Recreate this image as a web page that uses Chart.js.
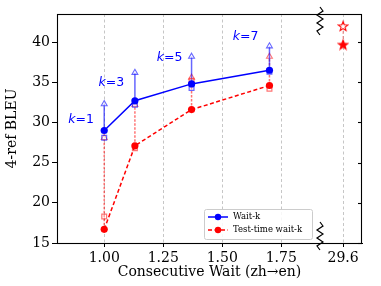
<!DOCTYPE html>
<html>
<head>
<meta charset="utf-8">
<script src="https://cdn.jsdelivr.net/npm/chart.js@4.4.0/dist/chart.umd.min.js"></script>
<style>
html,body{margin:0;padding:0;background:#fff;}
#wrap{width:381px;height:286px;position:relative;}
</style>
</head>
<body>
<div id="wrap"><canvas id="c" width="381" height="286"></canvas></div>
<script>
// ---- data ----
const consecutiveWait = [1.00, 1.13, 1.37, 1.70];
const waitK = [29.0, 32.7, 34.8, 36.5];
const waitKUpper = [32.3, 36.2, 38.2, 39.5];
const waitKSquare = [28.1, 32.2, 34.3, 36.3];
const testTime = [16.7, 27.1, 31.6, 34.6];
const testTimeUpper = [28.1, 32.2, 35.6, 38.2];
const testTimeSquare = [18.3, 26.8, 35.2, 34.2];
const kLabels = ['1', '3', '5', '7'];
const fullSentPos = 2.012;          // axis position of the "29.6" column
const fullSent = [42.0, 39.7];      // hollow star, filled star
const xTickValues = [1.00, 1.25, 1.50, 1.75, 2.012];
const xTickLabels = ['1.00', '1.25', '1.50', '1.75', '29.6'];
const yTickValues = [15, 20, 25, 30, 35, 40];

const BLUE = '#0000ff', RED = '#ff0000';
const BLUE_A = 'rgba(0,0,255,0.6)', RED_A = 'rgba(255,0,0,0.55)';

function makeStar(filled) {
  const s = 12, c = document.createElement('canvas');
  c.width = s; c.height = s;
  const g = c.getContext('2d');
  g.beginPath();
  for (let i = 0; i < 10; i++) {
    const r = i % 2 === 0 ? 5 : 2.1;
    const a = -Math.PI / 2 + i * Math.PI / 5;
    const px = s / 2 + r * Math.cos(a), py = s / 2 + 0.5 + r * Math.sin(a);
    if (i === 0) g.moveTo(px, py); else g.lineTo(px, py);
  }
  g.closePath();
  g.fillStyle = filled ? RED : '#ffffff';
  g.fill();
  g.lineWidth = 1.1;
  g.strokeStyle = RED;
  g.stroke();
  return c;
}
const starHollow = makeStar(false), starFilled = makeStar(true);

function arrowData(base, top) {
  const d = [];
  consecutiveWait.forEach((x, i) => {
    d.push({x: x, y: base[i]}, {x: x, y: top[i]}, {x: x, y: null});
  });
  return d;
}
function pts(ys) { return consecutiveWait.map((x, i) => ({x: x, y: ys[i]})); }

const datasets = [
  { label: 'Wait-k', data: pts(waitK), borderColor: BLUE, backgroundColor: BLUE,
    borderWidth: 1.5, pointStyle: 'circle', pointRadius: 3.6, pointBorderWidth: 0,
    showLine: true, order: 1 },
  { label: 'Test-time wait-k', data: pts(testTime), borderColor: RED, backgroundColor: RED,
    borderWidth: 1.5, borderDash: [4, 2.5], pointStyle: 'circle', pointRadius: 3.6, pointBorderWidth: 0,
    showLine: true, order: 2 },
  { label: 'wk-arrow', data: arrowData(waitK, waitKUpper), borderColor: BLUE_A, backgroundColor: 'rgba(255,255,255,0.6)',
    borderWidth: 1.5, showLine: true, spanGaps: false, pointStyle: 'triangle',
    pointRadius: (ctx) => (ctx.dataIndex % 3 === 1 ? 3.4 : 0), pointBorderColor: BLUE_A, pointBorderWidth: 1.1, order: 5 },
  { label: 'tt-arrow', data: arrowData(testTime, testTimeUpper), borderColor: RED_A, backgroundColor: 'rgba(255,255,255,0.6)',
    borderWidth: 1.5, borderDash: [2.5, 1.5], showLine: true, spanGaps: false, pointStyle: 'triangle',
    pointRadius: (ctx) => (ctx.dataIndex % 3 === 1 ? 3.4 : 0), pointBorderColor: RED_A, pointBorderWidth: 1.1, order: 6 },
  { label: 'wk-sq', data: pts(waitKSquare), showLine: false, pointStyle: 'rect', pointRadius: 3.4,
    pointBorderColor: BLUE_A, pointBackgroundColor: 'rgba(255,255,255,0.3)', pointBorderWidth: 1.2, order: 3 },
  { label: 'tt-sq', data: pts(testTimeSquare), showLine: false, pointStyle: 'rect', pointRadius: 3.4,
    pointBorderColor: RED_A, pointBackgroundColor: 'rgba(255,255,255,0.3)', pointBorderWidth: 1.2, order: 4 },
  { label: 'full', data: fullSent.map(y => ({x: fullSentPos, y: y})), showLine: true,
    borderColor: 'rgba(255,0,0,0.35)', borderWidth: 1.3, borderDash: [3, 2],
    pointStyle: [starHollow, starFilled], order: 0 }
];

const breakPos = 1.914;

const decor = {
  id: 'decor',
  beforeDatasetsDraw(chart) {
    const {ctx, chartArea: a, scales: {x}} = chart;
    ctx.save();
    ctx.strokeStyle = 'rgba(176,176,176,0.8)';
    ctx.lineWidth = 0.9;
    ctx.setLineDash([3, 2.5]);
    xTickValues.forEach(v => {
      const px = Math.round(x.getPixelForValue(v)) + 0.5;
      ctx.beginPath(); ctx.moveTo(px, a.top); ctx.lineTo(px, a.bottom); ctx.stroke();
    });
    ctx.restore();
  },
  afterDraw(chart) {
    const {ctx, chartArea: a, scales: {x, y}} = chart;
    ctx.save();
    // frame
    ctx.strokeStyle = '#000'; ctx.lineWidth = 1.1; ctx.setLineDash([]);
    ctx.strokeRect(Math.round(a.left) + 0.5, Math.round(a.top) + 0.5, Math.round(a.right - a.left) - 1, Math.round(a.bottom - a.top));
    // right spine inner ticks
    yTickValues.forEach(v => {
      const py = Math.round(y.getPixelForValue(v)) + 0.5;
      ctx.beginPath(); ctx.moveTo(a.right - 4, py); ctx.lineTo(a.right, py); ctx.stroke();
    });
    // break zigzags
    const bx = x.getPixelForValue(breakPos);
    function zig(y0, y1) {
      ctx.beginPath();
      const n = 7, step = (y1 - y0) / n;
      ctx.moveTo(bx, y0);
      for (let i = 1; i < n; i++) ctx.lineTo(bx + (i % 2 ? 3 : -3), y0 + i * step);
      ctx.lineTo(bx, y1);
      ctx.stroke();
    }
    ctx.lineWidth = 1.2;
    zig(a.top - 7, a.top + 21);
    zig(a.bottom - 21, a.bottom + 7);
    // k labels
    ctx.fillStyle = BLUE;
    ctx.textBaseline = 'middle';
    const kPos = [[0.902, 30.4], [1.03, 34.9], [1.277, 38.0], [1.599, 40.7]];
    kLabels.forEach((k, i) => {
      const px = x.getPixelForValue(kPos[i][0]), py = y.getPixelForValue(kPos[i][1]);
      ctx.font = 'italic 12.5px "DejaVu Sans"';
      const w1 = ctx.measureText('k').width;
      ctx.font = '12.5px "DejaVu Sans"';
      const w2 = ctx.measureText('=' + k).width;
      const sx = px - (w1 + w2) / 2;
      ctx.font = 'italic 12.5px "DejaVu Sans"';
      ctx.textAlign = 'left';
      ctx.fillText('k', sx, py);
      ctx.font = '12.5px "DejaVu Sans"';
      ctx.fillText('=' + k, sx + w1, py);
    });
    // legend
    const lx = 204, ly = 209, lw = 108, lh = 30;
    ctx.fillStyle = 'rgba(255,255,255,0.85)';
    ctx.strokeStyle = '#cccccc'; ctx.lineWidth = 1;
    ctx.beginPath();
    if (ctx.roundRect) ctx.roundRect(lx + 0.5, ly + 0.5, lw, lh, 2); else ctx.rect(lx + 0.5, ly + 0.5, lw, lh);
    ctx.fill(); ctx.stroke();
    const entries = [[BLUE, [], 'Wait-k'], [RED, [4, 2.5], 'Test-time wait-k']];
    entries.forEach((e, i) => {
      const cy = ly + 8 + i * 13;
      ctx.strokeStyle = e[0]; ctx.lineWidth = 1.5; ctx.setLineDash(e[1]);
      ctx.beginPath(); ctx.moveTo(lx + 4, cy); ctx.lineTo(lx + 24, cy); ctx.stroke();
      ctx.setLineDash([]);
      ctx.fillStyle = e[0];
      ctx.beginPath(); ctx.arc(lx + 14, cy, 3.2, 0, Math.PI * 2); ctx.fill();
      ctx.fillStyle = '#000';
      ctx.font = '8.5px "DejaVu Serif"';
      ctx.textAlign = 'left'; ctx.textBaseline = 'middle';
      ctx.fillText(e[2], lx + 29, cy);
    });
    ctx.restore();
  }
};

new Chart(document.getElementById('c'), {
  type: 'scatter',
  data: { datasets },
  options: {
    responsive: false,
    animation: false,
    devicePixelRatio: 1,
    layout: { padding: { left: 0, right: 19, top: 14, bottom: 0 } },
    plugins: { legend: { display: false }, tooltip: { enabled: false } },
    elements: { line: { tension: 0 } },
    scales: {
      x: {
        type: 'linear', min: 0.8, max: 2.092,
        afterBuildTicks: (s) => { s.ticks = xTickValues.map(v => ({value: v})); },
        afterFit: (s) => { s.height = 43; },
        ticks: {
          autoSkip: false, maxRotation: 0, padding: 3, color: '#000',
          font: { family: 'DejaVu Serif', size: 14 },
          callback: (v, i) => xTickLabels[i]
        },
        grid: { drawOnChartArea: false, drawTicks: true, tickLength: 4, color: '#000' },
        border: { display: true, color: '#000', width: 1 },
        title: { display: true, text: 'Consecutive Wait (zh→en)', color: '#000',
                 font: { family: 'DejaVu Serif', size: 14 }, padding: { top: 0, bottom: 5 } }
      },
      y: {
        type: 'linear', min: 15, max: 43.5,
        afterBuildTicks: (s) => { s.ticks = yTickValues.map(v => ({value: v})); },
        afterFit: (s) => { s.width = 57; },
        ticks: { padding: 2, color: '#000', font: { family: 'DejaVu Serif', size: 14 } },
        grid: { drawOnChartArea: false, drawTicks: true, tickLength: 5, color: '#000' },
        border: { display: true, color: '#000', width: 1 },
        title: { display: true, text: '4-ref BLEU', color: '#000',
                 font: { family: 'DejaVu Serif', size: 14 }, padding: { top: 4, bottom: 0 } }
      }
    }
  },
  plugins: [decor]
});
</script>
</body>
</html>
